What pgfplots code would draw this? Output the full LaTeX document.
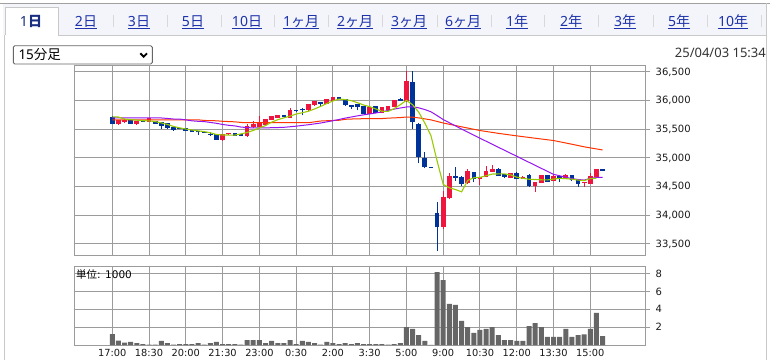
\documentclass[border=0pt]{standalone}
\usepackage{fontspec}
\setmainfont{DejaVu Sans}
\newfontfamily\jp{Noto Sans CJK JP}
\newfontfamily\ns{Noto Sans}
\usepackage{pgfplots}
\pgfplotsset{compat=1.18}
\definecolor{cred}{RGB}{238,22,62}
\definecolor{cblue}{RGB}{0,51,153}
\definecolor{cgreen}{RGB}{153,204,0}
\definecolor{cpurple}{RGB}{150,20,240}
\definecolor{corange}{RGB}{255,51,0}
\definecolor{cvol}{RGB}{102,102,102}
\definecolor{cgrid}{RGB}{155,155,155}
\definecolor{clink}{RGB}{30,50,170}
\definecolor{csel}{RGB}{25,45,130}
\definecolor{ctabbg}{RGB}{243,245,251}
\definecolor{cborder}{RGB}{200,200,200}
\newcommand\tabl[2]{%
  \node[anchor=base, inner sep=0pt, text=clink, font=\fontsize{14}{14}\selectfont] (n) at (#1pt,333.3pt) {#2};
  \draw[clink, line width=0.9pt] ([yshift=-2.2pt]n.base west) -- ([yshift=-2.2pt]n.base east);}
\begin{document}
\begin{tikzpicture}
\fill[white] (0pt,0pt) rectangle (770pt,360pt);
\path[use as bounding box] (0pt,0pt) rectangle (770pt,360pt);
% tab bar
\fill[ctabbg] (3pt,325pt) rectangle (766pt,356.7pt);
\draw[cborder!80!black, line width=0.8pt] (0pt,356.7pt) -- (770pt,356.7pt);
\draw[cborder, line width=0.8pt] (4pt,0pt) -- (4pt,325pt) -- (5pt,325pt);
\draw[cborder, line width=0.8pt] (58pt,325pt) -- (766pt,325pt);
\draw[cborder, line width=0.8pt] (766pt,0pt) -- (766pt,356.7pt);
\fill[white] (5pt,324.6pt) rectangle (58pt,352.7pt);
\draw[cborder, line width=0.8pt] (5pt,325pt) -- (5pt,352.7pt) -- (58pt,352.7pt) -- (58pt,325pt);
\foreach \s in {113,167,221,274,328,382,437,491,544,598,653,707,761}
  \draw[cborder!70, line width=0.8pt] (\s pt,333pt) -- (\s pt,345pt);
\node[anchor=base, inner sep=0pt, text=csel, font=\bfseries\fontsize{14}{14}\selectfont] at (31pt,333.3pt) {{\ns 1}{\jp 日}};
\tabl{86}{{\ns 2}{\jp 日}}
\tabl{139}{{\ns 3}{\jp 日}}
\tabl{193}{{\ns 5}{\jp 日}}
\tabl{247}{{\ns 10}{\jp 日}}
\tabl{301}{{\ns 1}{\jp ヶ月}}
\tabl{355}{{\ns 2}{\jp ヶ月}}
\tabl{409}{{\ns 3}{\jp ヶ月}}
\tabl{463}{{\ns 6}{\jp ヶ月}}
\tabl{517}{{\ns 1}{\jp 年}}
\tabl{571}{{\ns 2}{\jp 年}}
\tabl{625}{{\ns 3}{\jp 年}}
\tabl{679}{{\ns 5}{\jp 年}}
\tabl{733}{{\ns 10}{\jp 年}}
% dropdown
\draw[black!60, line width=0.9pt, rounded corners=1.5pt] (13.3pt,296pt) rectangle (152.3pt,314.3pt);
\node[anchor=base west, inner sep=0pt, font=\fontsize{13.5}{13.5}\selectfont] at (18.3pt,301pt) {{\ns 15}{\jp 分足}};
\draw[black, line width=1.8pt] (140.3pt,306.7pt) -- (143.7pt,303.3pt) -- (147pt,306.7pt);
\node[anchor=base east, inner sep=0pt, text=black!80, font=\ns\fontsize{13}{13}\selectfont] at (766pt,302.7pt) {25/04/03 15:34};

% ===== price chart =====
\begin{axis}[
  at={(74pt,105pt)}, anchor=south west, scale only axis,
  width=571pt, height=190pt,
  xmin=-6.25, xmax=86.93, ymin=33308, ymax=36622,
  xtick={0,6,...,78}, xticklabels={},
  ytick={33500,34000,...,36500},
  scaled y ticks=false,
  grid=major, grid style={cgrid, line width=1pt},
  axis line style={cgrid, line width=1pt},
  ytick pos=right, yticklabel pos=right,
  tick align=outside, major tick length=5pt,
  xtick style={draw=none}, ytick style={cgrid, line width=1pt},
  yticklabel style={font=\fontsize{10}{10}\selectfont, inner sep=0pt, xshift=5.5pt, text=black!90},
  /pgf/number format/.cd, fixed, 1000 sep={,}, assume math mode=true
]
% red wicks
\addplot[cred, line width=1pt, unbounded coords=jump] coordinates {
(1,35580)(1,35665)(1,nan) (2,35610)(2,35675)(2,nan) (4,35580)(4,35648)(4,nan) (6,35630)(6,35698)(6,nan)
(18,35300)(18,35412)(18,nan) (19,35408)(19,35436)(19,nan) (22,35374)(22,35596)(22,nan) (23,35530)(23,35654)(23,nan)
(24,35545)(24,35724)(24,nan) (25,35580)(25,35684)(25,nan) (26,35664)(26,35736)(26,nan) (27,35704)(27,35755)(27,nan)
(29,35698)(29,35880)(29,nan) (32,35828)(32,35945)(32,nan) (33,35914)(33,35998)(33,nan) (35,35944)(35,36030)(35,nan)
(36,36000)(36,36072)(36,nan) (42,35768)(42,35886)(42,nan) (44,35780)(44,35890)(44,nan) (45,35827)(45,35905)(45,nan)
(46,35886)(46,36018)(46,nan) (48,35985)(48,36520)(48,nan) (54,33760)(54,34430)(54,nan) (55,34280)(55,34745)(55,nan)
(58,34545)(58,34805)(58,nan) (60,34530)(60,34668)(60,nan) (61,34660)(61,34862)(61,nan) (62,34752)(62,34880)(62,nan)
(65,34648)(65,34745)(65,nan) (67,34625)(67,34680)(67,nan) (69,34410)(69,34590)(69,nan) (70,34560)(70,34710)(70,nan)
(72,34595)(72,34720)(72,nan) (74,34640)(74,34715)(74,nan) (77,34500)(77,34590)(77,nan) (78,34550)(78,34735)(78,nan)
(79,34660)(79,34810)(79,nan)};
% red bodies
\addplot[cred, line width=4.7pt, unbounded coords=jump] coordinates {
(1,35585)(1,35660)(1,nan) (2,35628)(2,35668)(2,nan) (4,35595)(4,35643)(4,nan) (6,35632)(6,35695)(6,nan)
(18,35317)(18,35410)(18,nan) (19,35410)(19,35434)(19,nan) (22,35392)(22,35561)(22,nan) (23,35532)(23,35596)(23,nan)
(24,35549)(24,35626)(24,nan) (25,35582)(25,35682)(25,nan) (26,35666)(26,35730)(26,nan) (27,35706)(27,35752)(27,nan)
(29,35700)(29,35841)(29,nan) (32,35830)(32,35941)(32,nan) (33,35916)(33,35995)(33,nan) (35,35946)(35,36026)(35,nan)
(36,36002)(36,36070)(36,nan) (42,35771)(42,35884)(42,nan) (44,35782)(44,35881)(44,nan) (45,35829)(45,35899)(45,nan)
(46,35888)(46,36016)(46,nan) (48,35990)(48,36350)(48,nan) (54,33800)(54,34320)(54,nan) (55,34300)(55,34690)(55,nan)
(58,34560)(58,34765)(58,nan) (60,34630)(60,34665)(60,nan) (61,34665)(61,34775)(61,nan) (62,34757)(62,34800)(62,nan)
(65,34650)(65,34740)(65,nan) (67,34630)(67,34672)(67,nan) (69,34515)(69,34585)(69,nan) (70,34565)(70,34705)(70,nan)
(72,34600)(72,34690)(72,nan) (74,34650)(74,34705)(74,nan) (77,34557)(77,34575)(77,nan) (78,34555)(78,34690)(78,nan)
(79,34665)(79,34800)(79,nan)};
% blue wicks
\addplot[cblue, line width=1pt, unbounded coords=jump] coordinates {
(0,35595)(0,35725)(0,nan) (3,35595)(3,35672)(3,nan) (5,35630)(5,35655)(5,nan) (7,35595)(7,35648)(7,nan)
(8,35505)(8,35625)(8,nan) (9,35504)(9,35612)(9,nan) (10,35478)(10,35552)(10,nan) (11,35500)(11,35525)(11,nan)
(12,35472)(12,35524)(12,nan) (13,35455)(13,35492)(13,nan) (14,35405)(14,35478)(14,nan) (15,35443)(15,35464)(15,nan)
(16,35375)(16,35450)(16,nan) (17,35315)(17,35418)(17,nan) (20,35390)(20,35436)(20,nan) (21,35385)(21,35412)(21,nan)
(28,35710)(28,35755)(28,nan) (30,35810)(30,35843)(30,nan) (31,35742)(31,35871)(31,nan) (34,35899)(34,35980)(34,nan)
(37,36025)(37,36066)(37,nan) (38,35905)(38,36033)(38,nan) (39,35855)(39,35930)(39,nan) (40,35829)(40,35946)(40,nan)
(41,35770)(41,35902)(41,nan) (43,35782)(43,35914)(43,nan) (47,35995)(47,36040)(47,nan) (49,35510)(49,36510)(49,nan)
(50,34905)(50,35610)(50,nan) (51,34820)(51,35105)(51,nan) (52,34831)(52,34849)(52,nan) (53,33375)(53,34235)(53,nan)
(56,34605)(56,34845)(56,nan) (57,34510)(57,34680)(57,nan) (59,34575)(59,34762)(59,nan) (63,34685)(63,34822)(63,nan)
(64,34645)(64,34720)(64,nan) (66,34625)(66,34750)(66,nan) (68,34500)(68,34722)(68,nan) (71,34580)(71,34710)(71,nan)
(73,34590)(73,34700)(73,nan) (75,34600)(75,34700)(75,nan) (76,34500)(76,34615)(76,nan) (80,34775)(80,34815)(80,nan)};
% blue bodies
\addplot[cblue, line width=4.7pt, unbounded coords=jump] coordinates {
(0,35600)(0,35720)(0,nan) (3,35598)(3,35668)(3,nan) (5,35634)(5,35652)(5,nan) (7,35598)(7,35643)(7,nan)
(8,35562)(8,35620)(8,nan) (9,35526)(9,35608)(9,nan) (10,35480)(10,35549)(10,nan) (11,35505)(11,35520)(11,nan)
(12,35475)(12,35520)(12,nan) (13,35457)(13,35490)(13,nan) (14,35447)(14,35465)(14,nan) (15,35445)(15,35462)(15,nan)
(16,35408)(16,35426)(16,nan) (17,35318)(17,35416)(17,nan) (20,35392)(20,35434)(20,nan) (21,35388)(21,35410)(21,nan)
(28,35713)(28,35752)(28,nan) (30,35812)(30,35841)(30,nan) (31,35831)(31,35849)(31,nan) (34,35946)(34,35976)(34,nan)
(37,36028)(37,36063)(37,nan) (38,35916)(38,36030)(38,nan) (39,35893)(39,35928)(39,nan) (40,35881)(40,35943)(40,nan)
(41,35771)(41,35899)(41,nan) (43,35785)(43,35911)(43,nan) (47,35998)(47,36028)(47,nan) (49,35620)(49,36330)(49,nan)
(50,35025)(50,35600)(50,nan) (51,34835)(51,34995)(51,nan) (52,34831)(52,34849)(52,nan) (53,33790)(53,34045)(53,nan)
(56,34655)(56,34685)(56,nan) (57,34550)(57,34670)(57,nan) (59,34640)(59,34757)(59,nan) (63,34690)(63,34800)(63,nan)
(64,34665)(64,34715)(64,nan) (66,34630)(66,34745)(66,nan) (68,34512)(68,34700)(68,nan) (71,34590)(71,34705)(71,nan)
(73,34630)(73,34690)(73,nan) (75,34610)(75,34695)(75,nan) (76,34550)(76,34610)(76,nan) (80,34780)(80,34800)(80,nan)};
% long MA
\addplot[corange, line width=1pt] coordinates {
(0,35666)(14,35666)(15,35655)(17,35649)(18,35640)(20,35631)(21,35620)(22,35615)(32,35615)(33,35630)(34,35645)
(35,35650)(37,35658)(38,35675)(40,35684)(44,35688)(45,35695)(47,35705)(48,35715)(49,35712)(50,35700)(52,35665)
(54,35610)(57,35544)(60,35479)(63,35430)(66,35386)(69,35345)(72,35305)(75,35240)(77,35195)(80,35140)};
% medium MA
\addplot[cpurple, line width=1pt] coordinates {
(0,35700)(8,35698)(9,35690)(10,35680)(11,35678)(12,35665)(13,35648)(14,35640)(15,35635)(16,35620)(17,35605)
(18,35585)(19,35570)(20,35560)(21,35540)(22,35530)(23,35525)(24,35525)(26,35528)(28,35535)(29,35545)(30,35555)
(31,35568)(32,35580)(33,35595)(34,35610)(35,35630)(36,35650)(37,35672)(38,35696)(39,35715)(40,35735)(41,35753)
(42,35768)(43,35785)(44,35805)(45,35830)(46,35853)(47,35872)(48,35890)(49,35893)(50,35875)(51,35845)(52,35806)
(53,35740)(54,35670)(57,35505)(60,35345)(63,35187)(66,35030)(69,34872)(72,34715)(73,34690)(74,34665)(75,34640)
(76,34625)(77,34615)(78,34645)(79,34660)(80,34660)};
% short MA
\addplot[cgreen, line width=1.1pt] coordinates {
(0,35718)(1,35715)(2,35680)(3,35670)(4,35660)(5,35650)(6,35648)(7,35635)(8,35612)(9,35585)(10,35550)(11,35525)
(12,35505)(13,35488)(14,35474)(15,35460)(16,35440)(17,35410)(18,35402)(19,35400)(20,35400)(21,35420)(22,35445)
(23,35480)(24,35525)(25,35565)(26,35625)(27,35668)(28,35700)(29,35730)(30,35766)(31,35790)(32,35815)(33,35855)
(34,35900)(35,35950)(36,35995)(37,36028)(38,36018)(39,36000)(40,35965)(41,35925)(42,35895)(43,35855)(44,35815)
(45,35812)(46,35862)(47,35930)(48,36005)(49,35930)(50,35800)(51,35610)(52,35390)(53,34950)(54,34540)(55,34480)
(56,34450)(57,34410)(58,34610)(59,34655)(60,34662)(61,34690)(62,34720)(63,34722)(64,34722)(65,34705)(66,34665)
(67,34645)(68,34630)(69,34625)(70,34620)(71,34617)(72,34632)(73,34645)(74,34640)(75,34630)(76,34615)(77,34606)
(78,34640)(79,34648)};
\end{axis}

% ===== volume chart =====
\begin{axis}[
  at={(74pt,15pt)}, anchor=south west, scale only axis,
  width=571pt, height=79pt,
  xmin=-6.25, xmax=86.93, ymin=0, ymax=8.84,
  xtick={0,6,...,78},
  xticklabels={17:00,18:30,20:00,21:30,23:00,0:30,2:00,3:30,5:00,9:00,10:30,12:00,13:30,15:00},
  ytick={2,4,6,8},
  grid=major, grid style={cgrid, line width=1pt},
  axis line style={cgrid, line width=1pt},
  ytick pos=right, yticklabel pos=right,
  tick align=outside, major tick length=5pt,
  xtick style={draw=none}, ytick style={cgrid, line width=1pt},
  yticklabel style={font=\fontsize{10}{10}\selectfont, inner sep=0pt, xshift=5.5pt, text=black!90},
  xticklabel style={font=\fontsize{9.8}{9.8}\selectfont, inner sep=0pt, anchor=base, yshift=-6.2pt, text=black!90},
  /pgf/number format/.cd, assume math mode=true
]
\addplot[ybar, bar width=5pt, fill=cvol, draw=none] coordinates {
(0,1.23)(1,0.48)(2,0.26)(3,0.34)(4,0.22)(5,0.11)(6,0.05)(7,0.05)(8,0.45)(9,0.22)(10,0.05)(11,0.11)(12,0.11)
(13,0.11)(14,0.22)(15,0.04)(16,0.22)(17,0.34)(18,0.11)(19,0.11)(20,0.11)(21,0.03)(22,0.56)(23,0.56)(24,0.56)
(25,0.22)(26,0.45)(27,0.22)(28,0.22)(29,0.56)(30,0.11)(31,0.45)(32,0.34)(33,0.22)(34,0.03)(35,0.34)(36,0.22)
(37,0.11)(38,0.22)(39,0.11)(40,0.22)(41,0.11)(42,0.11)(43,0.11)(44,0.11)(45,0.05)(46,0.11)(47,0.22)(48,2.0)
(49,1.8)(50,1.1)(51,0.45)(52,0.02)(53,8.15)(54,7.26)(55,4.6)(56,4.5)(57,2.7)(58,2.0)(59,1.35)(60,1.7)(61,1.8)
(62,2.0)(63,1.1)(64,0.56)(65,0.56)(66,0.45)(67,0.45)(68,2.1)(69,2.45)(70,2.0)(71,0.9)(72,0.9)(73,0.9)(74,1.8)
(75,0.9)(76,1.1)(77,1.2)(78,1.8)(79,3.6)(80,1.0)};
\end{axis}
\node[anchor=base west, inner sep=0pt, font=\fontsize{10.5}{10.5}\selectfont] at (76pt,81.7pt) {{\jp 単位}: 1000};
\end{tikzpicture}
\end{document}
